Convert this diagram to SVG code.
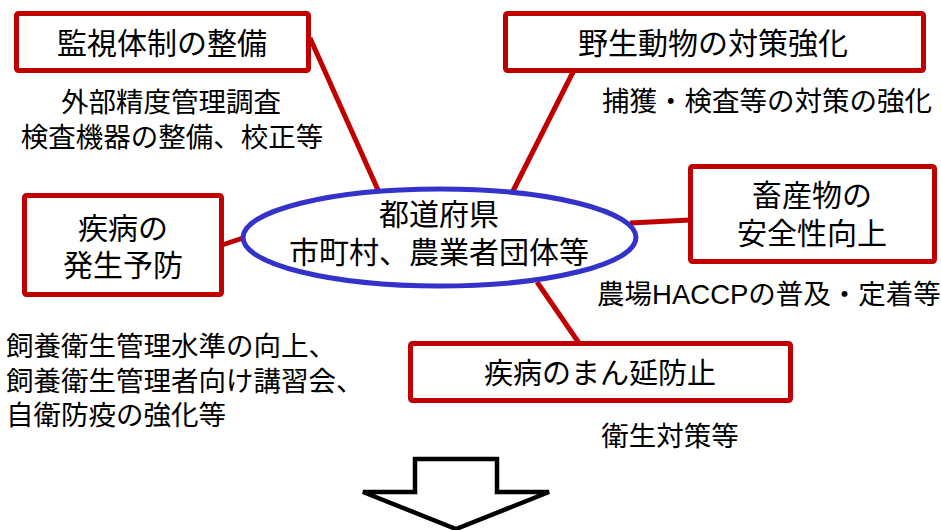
<svg xmlns="http://www.w3.org/2000/svg" width="941" height="530" viewBox="0 0 941 530">
<style>
.box{fill:#fff;stroke:#C00000;stroke-width:5}
.ln{stroke:#C00000;stroke-width:5;fill:none}
.t{font-family:"Liberation Sans","Noto Sans CJK JP",sans-serif;fill:#000;text-anchor:middle}
.h{font-size:30px}
.s{font-size:27.5px}
</style>
<rect width="941" height="530" fill="#fff"/>
<g id="connectors">
<line class="ln" x1="310" y1="38" x2="378" y2="190"/>
<line class="ln" x1="573" y1="72" x2="513" y2="191"/>
<line class="ln" x1="630" y1="223" x2="690" y2="220"/>
<line class="ln" x1="222" y1="245" x2="243" y2="238"/>
<line class="ln" x1="537" y1="282" x2="579" y2="343"/>
</g>
<g id="center">
<ellipse cx="439.5" cy="237.5" rx="196.5" ry="48.5" fill="#fff" stroke="#3333CC" stroke-width="5"/>
<text class="t h" x="439" y="225">都道府県</text>
<text class="t h" x="439" y="263">市町村、農業者団体等</text>
</g>
<g id="n1">
<rect class="box" x="16.5" y="13.5" width="292" height="57" rx="2"/>
<text class="t h" x="162" y="54">監視体制の整備</text>
<text class="t s" x="171" y="112">外部精度管理調査</text>
<text class="t s" x="172" y="147">検査機器の整備、校正等</text>
</g>
<g id="n2">
<rect class="box" x="505.5" y="13.5" width="418" height="57" rx="2"/>
<text class="t h" x="713" y="54">野生動物の対策強化</text>
<text class="t s" x="767" y="111">捕獲・検査等の対策の強化</text>
</g>
<g id="n3">
<rect class="box" x="690.5" y="166.5" width="244" height="95" rx="2"/>
<text class="t h" x="812" y="206">畜産物の</text>
<text class="t h" x="812" y="244">安全性向上</text>
<text class="t s" x="769" y="304">農場HACCPの普及・定着等</text>
</g>
<g id="n4">
<rect class="box" x="24.5" y="195.5" width="197" height="99" rx="2"/>
<text class="t h" x="123" y="239">疾病の</text>
<text class="t h" x="123" y="276">発生予防</text>
<text class="t s" x="6" y="356" style="text-anchor:start">飼養衛生管理水準の向上、</text>
<text class="t s" x="6" y="391" style="text-anchor:start">飼養衛生管理者向け講習会、</text>
<text class="t s" x="6" y="425" style="text-anchor:start">自衛防疫の強化等</text>
</g>
<g id="n5">
<rect class="box" x="410.5" y="343.5" width="380" height="57" rx="2"/>
<text class="t" style="font-size:29px" x="600" y="384">疾病のまん延防止</text>
<text class="t s" x="670" y="446">衛生対策等</text>
</g>
<g id="arrow">
<polygon points="415,459 497,459 497,492 549,492 456,529 363,492 415,492" fill="#fff" stroke="#000" stroke-width="4.5" stroke-linejoin="miter"/>
</g>
</svg>
